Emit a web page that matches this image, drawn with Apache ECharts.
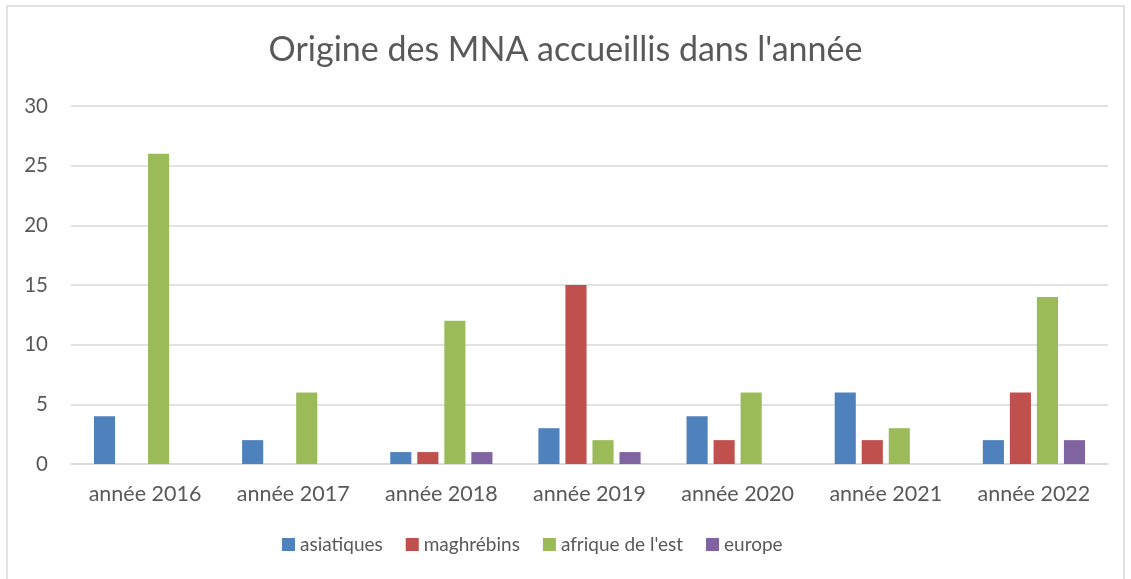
<!DOCTYPE html>
<html>
<head>
<meta charset="utf-8">
<script src="https://cdn.jsdelivr.net/npm/echarts@6/dist/echarts.min.js"></script>
<style>
  html, body { margin: 0; padding: 0; background: #fff; }
  #chart { width: 1131px; height: 579px; }
</style>
</head>
<body>
<div id="chart"></div>
<script>
var categories = ['année 2016', 'année 2017', 'année 2018', 'année 2019', 'année 2020', 'année 2021', 'année 2022'];
var asiatiques = [4, 2, 1, 3, 4, 6, 2];
var maghrebins = [0, 0, 1, 15, 2, 2, 6];
var afriqueEst = [26, 6, 12, 2, 6, 3, 14];
var europe = [0, 0, 1, 1, 0, 0, 2];

var seriesNames = ['asiatiques', 'maghrébins', "afrique de l'est", 'europe'];
var seriesColors = ['#4F81BD', '#C0504D', '#9BBB59', '#8064A2'];
var seriesData = [asiatiques, maghrebins, afriqueEst, europe];

var fontFam = 'Lato, "Open Sans", sans-serif';

var myChart = echarts.init(document.getElementById('chart'));

var series = seriesData.map(function (d, i) {
    return {
        name: seriesNames[i],
        type: 'bar',
        data: d,
        barGap: '28%',
        barCategoryGap: '31%',
        itemStyle: { color: seriesColors[i] }
    };
});

var option = {
    animation: false,
    backgroundColor: '#fff',
    graphic: [{
        type: 'rect',
        shape: { x: 7, y: 6, width: 1117, height: 580 },
        style: { fill: 'none', stroke: '#d9d9d9', lineWidth: 1.5 },
        silent: true
    }],
    title: {
        text: "Origine des MNA accueillis dans l'année",
        left: 'center',
        top: 28,
        textStyle: { fontFamily: fontFam, fontSize: 34, fontWeight: 'normal', color: '#595959' }
    },
    legend: {
        bottom: 20,
        left: 277,
        itemWidth: 13,
        itemHeight: 13,
        itemGap: 23,
        icon: 'rect',
        textStyle: { fontFamily: fontFam, fontSize: 19, color: '#595959' },
        data: seriesNames
    },
    grid: { left: 71, right: 23, top: 106, bottom: 115 },
    xAxis: {
        type: 'category',
        data: categories,
        axisLine: { lineStyle: { color: '#d9d9d9', width: 1.5 } },
        axisTick: { show: false },
        axisLabel: { fontFamily: fontFam, fontSize: 21.5, color: '#595959', margin: 19 }
    },
    yAxis: {
        type: 'value',
        min: 0,
        max: 30,
        interval: 5,
        axisLine: { show: false },
        axisTick: { show: false },
        axisLabel: { fontFamily: fontFam, fontSize: 20.5, color: '#595959', margin: 23 },
        splitLine: { lineStyle: { color: '#d9d9d9', width: 1.5 } }
    },
    series: series
};

myChart.setOption(option);
</script>
</body>
</html>
